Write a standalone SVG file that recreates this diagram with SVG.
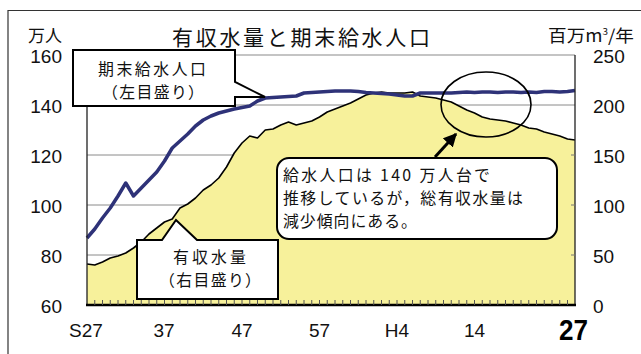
<svg xmlns="http://www.w3.org/2000/svg" width="641" height="354" viewBox="0 0 641 354">
<defs>
<style>
.jp{font-family:"Noto Sans CJK JP","Noto Sans",sans-serif;fill:#111}
.num{font-family:"Liberation Sans",Arial,sans-serif;font-size:19px;fill:#111}
.grid{stroke:#8a8a8a;stroke-width:1;fill:none}
.box{fill:#fff;stroke:#000;stroke-width:2}
</style>
<marker id="ah" viewBox="0 0 10 10" refX="9" refY="5" markerWidth="4.5" markerHeight="4.5" orient="auto" markerUnits="strokeWidth">
<path d="M0,0 L10,5 L0,10 Z" fill="#000"/>
</marker>
</defs>
<rect width="641" height="354" fill="#fff"/>
<path d="M8,354 V10.5 H641" fill="none" stroke="#333" stroke-width="1.2"/>

<g id="plot">
<path class="grid" d="M87,105 H575 M87,155 H575 M87,205 H575 M87,255 H575"/>
<polygon fill="#f7f19b" points="87,264 94.75,265 102.5,262 110.25,258 118,256 125.75,253 133.5,248 141.25,242 149,234 156.75,228 164.5,222 172.25,219 180,208 187.75,204 195.5,198 203.25,190 211,185 218.75,178 226.5,167 234.25,153 242,143 249.75,136 257.5,138 265.25,130 273,129 280.75,125 288.5,122 296.25,125 304,123 311.75,121 319.5,117 327.25,112 335,109 342.75,106 350.5,103 358.25,99 366,95 373.75,93 381.5,92 389.25,93 397,93 404.75,93 412.5,92 420.25,96 428,97 435.75,98 443.5,100 451.25,102 459,106 466.75,110 474.5,113 482.25,117 490,119 497.75,120 505.5,121 513.25,123 521,125 528.75,128 536.5,129 544.25,132 552,134 559.75,136 567.5,139 575,140 575,305 87,305"/>
<polyline fill="none" stroke="#000" stroke-width="1.6" stroke-linejoin="round" points="87,264 94.75,265 102.5,262 110.25,258 118,256 125.75,253 133.5,248 141.25,242 149,234 156.75,228 164.5,222 172.25,219 180,208 187.75,204 195.5,198 203.25,190 211,185 218.75,178 226.5,167 234.25,153 242,143 249.75,136 257.5,138 265.25,130 273,129 280.75,125 288.5,122 296.25,125 304,123 311.75,121 319.5,117 327.25,112 335,109 342.75,106 350.5,103 358.25,99 366,95 373.75,93 381.5,92 389.25,93 397,93 404.75,93 412.5,92 420.25,96 428,97 435.75,98 443.5,100 451.25,102 459,106 466.75,110 474.5,113 482.25,117 490,119 497.75,120 505.5,121 513.25,123 521,125 528.75,128 536.5,129 544.25,132 552,134 559.75,136 567.5,139 575,140"/>
<polyline fill="none" stroke="#2e3278" stroke-width="3.5" stroke-linejoin="round" points="87,238 94.75,229 102.5,218 110.25,208 118,196 125.75,183 133.5,196 141.25,188 149,180 156.75,172 164.5,161 172.25,148 180,141 187.75,134 195.5,126 203.25,120 211,116 218.75,113 226.5,111 234.25,109 242,107.5 249.75,106 257.5,101 265.25,98 273,97.5 280.75,97 288.5,96.5 296.25,96 304,93 311.75,92.5 319.5,92 327.25,91.5 335,91 342.75,91 350.5,91 358.25,91.5 366,92.5 373.75,93 381.5,93.5 389.25,94 397,95 404.75,96 412.5,96 420.25,93 428,93 435.75,93 443.5,93 451.25,93 459,92.5 466.75,92 474.5,92.5 482.25,92 490,92 497.75,92.5 505.5,92 513.25,92 521,92.5 528.75,92 536.5,92.5 544.25,91.5 552,91.5 559.75,92 567.5,91.5 575,90.5"/>
<path d="M87,55 H575" stroke="#8a8a8a" stroke-width="1.2" fill="none"/>
<path d="M87,55 V305 M575,55 V305" stroke="#222" stroke-width="1.3" fill="none"/>
<path d="M86,305 H576" stroke="#000" stroke-width="2.5" fill="none"/>
<path stroke="#555" stroke-width="1" fill="none" d="M94.75,305V300M102.5,305V300M110.25,305V300M118,305V300M125.75,305V300M133.5,305V300M141.25,305V300M149,305V300M156.75,305V300M164.5,305V300M172.25,305V300M180,305V300M187.75,305V300M195.5,305V300M203.25,305V300M211,305V300M218.75,305V300M226.5,305V300M234.25,305V300M242,305V300M249.75,305V300M257.5,305V300M265.25,305V300M273,305V300M280.75,305V300M288.5,305V300M296.25,305V300M304,305V300M311.75,305V300M319.5,305V300M327.25,305V300M335,305V300M342.75,305V300M350.5,305V300M358.25,305V300M366,305V300M373.75,305V300M381.5,305V300M389.25,305V300M397,305V300M404.75,305V300M412.5,305V300M420.25,305V300M428,305V300M435.75,305V300M443.5,305V300M451.25,305V300M459,305V300M466.75,305V300M474.5,305V300M482.25,305V300M490,305V300M497.75,305V300M505.5,305V300M513.25,305V300M521,305V300M528.75,305V300M536.5,305V300M544.25,305V300M552,305V300M559.75,305V300M567.5,305V300"/>
<path stroke="#777" stroke-width="1" fill="none" d="M571,155H575M571,205H575M571,255H575"/>
</g>

<g id="axis-left">
<text class="jp" x="62" y="42" font-size="17" text-anchor="end">万人</text>
<text class="num" x="62" y="63" text-anchor="end">160</text>
<text class="num" x="62" y="113" text-anchor="end">140</text>
<text class="num" x="62" y="163" text-anchor="end">120</text>
<text class="num" x="62" y="213" text-anchor="end">100</text>
<text class="num" x="62" y="263" text-anchor="end">80</text>
<text class="num" x="62" y="313" text-anchor="end">60</text>
</g>

<g id="axis-right">
<text class="jp" x="548" y="42" font-size="17" textLength="86" lengthAdjust="spacingAndGlyphs">百万m<tspan font-size="9" dy="-7">3</tspan><tspan dy="7">/年</tspan></text>
<text class="num" x="593" y="63">250</text>
<text class="num" x="593" y="113">200</text>
<text class="num" x="593" y="163">150</text>
<text class="num" x="593" y="213">100</text>
<text class="num" x="593" y="263">50</text>
<text class="num" x="593" y="313">0</text>
</g>

<g id="axis-bottom">
<text class="num" x="86" y="337" text-anchor="middle">S27</text>
<text class="num" x="164" y="337" text-anchor="middle">37</text>
<text class="num" x="242" y="337" text-anchor="middle">47</text>
<text class="num" x="319.5" y="337" text-anchor="middle">57</text>
<text class="num" x="397" y="337" text-anchor="middle">H4</text>
<text class="num" x="474.5" y="337" text-anchor="middle">14</text>
<text x="559" y="340" font-family="Liberation Sans,Arial,sans-serif" font-weight="bold" font-size="30" textLength="29" lengthAdjust="spacingAndGlyphs" fill="#000">27</text>
</g>

<g id="title">
<text class="jp" x="172" y="45" font-size="21" textLength="258" lengthAdjust="spacing">有収水量と期末給水人口</text>
</g>

<g id="callout-population">
<path class="box" d="M73,50 H235 V82 L265,97 L235,97 V106 H73 Z"/>
<text class="jp" font-size="15.9"><tspan x="98" y="75" textLength="108" lengthAdjust="spacing">期末給水人口</tspan><tspan x="102" y="98" textLength="102" lengthAdjust="spacing">（左目盛り）</tspan></text>
</g>

<g id="callout-volume">
<path class="box" d="M137,240 H162 L176,220 L197,240 H278 V299 H137 Z"/>
<text class="jp" font-size="15.9"><tspan x="173" y="263" textLength="73" lengthAdjust="spacing">有収水量</tspan><tspan x="159" y="286" textLength="102" lengthAdjust="spacing">（右目盛り）</tspan></text>
</g>

<g id="note">
<rect class="box" x="277" y="158" width="280" height="81" rx="12" ry="12"/>
<text class="jp" font-size="15.9"><tspan x="283" y="181" textLength="207" lengthAdjust="spacing">給水人口は 140 万人台で</tspan><tspan x="283" y="204" textLength="240" lengthAdjust="spacing">推移しているが，総有収水量は</tspan><tspan x="283" y="227" textLength="134" lengthAdjust="spacing">減少傾向にある。</tspan></text>
</g>

<g id="connectors">
<ellipse cx="486" cy="104.5" rx="45" ry="32.5" fill="none" stroke="#000" stroke-width="1.6"/>
<line x1="435" y1="157" x2="456" y2="134" stroke="#000" stroke-width="3" marker-end="url(#ah)"/>
</g>
</svg>
